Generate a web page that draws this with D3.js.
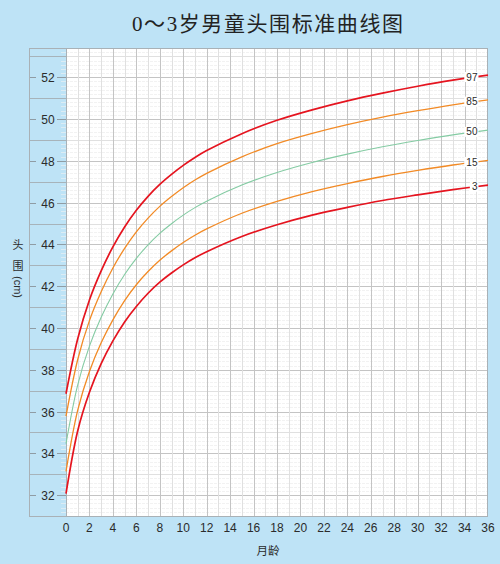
<!DOCTYPE html>
<html>
<head>
<meta charset="utf-8">
<script src="https://cdn.jsdelivr.net/npm/d3@7/dist/d3.min.js"></script>
<style>
  html, body { margin: 0; padding: 0; background: #bee3f6; }
  svg { display: block; }
</style>
</head>
<body>
<div id="chart"></div>
<script>
// 月龄
var months = [0, 1, 2, 3, 4, 5, 6, 7, 8, 9, 10, 11, 12, 15, 18, 21, 24, 27, 30, 33, 36];

// 头围百分位 (cm)
var p3 = [32.07, 35.08, 36.92, 38.29, 39.38, 40.29, 41.03, 41.66, 42.19, 42.63, 43.02,
  43.36, 43.65, 44.38, 44.94, 45.40, 45.77, 46.10, 46.37, 46.62, 46.84];
var p15 = [33.14, 36.07, 37.92, 39.29, 40.39, 41.31, 42.07, 42.70, 43.24, 43.69, 44.09,
  44.44, 44.74, 45.49, 46.06, 46.53, 46.91, 47.25, 47.54, 47.80, 48.02];
var p50 = [34.46, 37.28, 39.13, 40.51, 41.63, 42.56, 43.33, 43.98, 44.53, 44.99, 45.40,
  45.76, 46.07, 46.84, 47.44, 47.92, 48.32, 48.67, 48.97, 49.24, 49.47];
var p85 = [35.78, 38.49, 40.35, 41.73, 42.87, 43.81, 44.60, 45.26, 45.82, 46.29, 46.71,
  47.08, 47.40, 48.19, 48.82, 49.31, 49.73, 50.09, 50.40, 50.68, 50.92];
var p97 = [36.85, 39.48, 41.34, 42.73, 43.88, 44.83, 45.63, 46.30, 46.87, 47.35, 47.78,
  48.16, 48.49, 49.30, 49.94, 50.44, 50.87, 51.24, 51.57, 51.86, 52.10];

var seriesNames = ['3', '15', '50', '85', '97'];
var seriesValues = [p3, p15, p50, p85, p97];

// 刻度
var xTickLabels = [0, 2, 4, 6, 8, 10, 12, 14, 16, 18, 20, 22, 24, 26, 28, 30, 32, 34, 36];
var yTickLabels = [32, 34, 36, 38, 40, 42, 44, 46, 48, 50, 52];

function HeadCircleChart(option) {
  this.width = option.width || 0;
  this.height = option.height || 0;

  this.top = option.top || 0;
  this.bottom = option.bottom || 0;
  this.left = option.left || 0;
  this.right = option.right || 0;
  this.stripLeft = option.stripLeft || 0;

  this.chart = d3.select(option.el)
    .append('svg')
    .attr('width', this.width)
    .attr('height', this.height);

  this.x = d3.scaleLinear()
    .domain([0, 36])
    .range([this.left, this.width - this.right]);
  this.y = d3.scaleLinear()
    .domain([31, 53.4])
    .range([this.height - this.bottom, this.top]);
}

HeadCircleChart.prototype._py = function (v) {
  return Math.round(this.y(v)) + 0.5;
};
HeadCircleChart.prototype._px = function (v) {
  return Math.round(this.x(v)) + 0.5;
};

HeadCircleChart.prototype._drawFrame = function () {
  var x0 = this.left, x1 = this.width - this.right;
  var y0 = this.top, y1 = this.height - this.bottom;

  this.chart.append('rect')
    .attr('x', x0).attr('y', y0)
    .attr('width', x1 - x0).attr('height', y1 - y0)
    .attr('fill', '#ffffff');
};

HeadCircleChart.prototype._drawGrid = function () {
  var self = this;
  var x0 = this.left, x1 = this.width - this.right;
  var y0 = this.top, y1 = this.height - this.bottom;
  var grid = this.chart.append('g').attr('class', 'grid');

  // 0.2cm 细线
  var fine = d3.range(0, 113).map(function (i) { return 31 + i * 0.2; })
    .filter(function (v) { return Math.abs(v - Math.round(v)) > 0.01; });
  grid.selectAll('.fineH').data(fine).enter().append('line')
    .attr('x1', x0).attr('x2', x1)
    .attr('y1', function (d) { return self._py(d); })
    .attr('y2', function (d) { return self._py(d); })
    .attr('stroke', '#f2f2f2')
    .attr('stroke-dasharray', '3,1')
    .attr('stroke-width', 1);

  grid.selectAll('.cmH').data(d3.range(31, 54)).enter().append('line')
    .attr('x1', x0).attr('x2', x1)
    .attr('y1', function (d) { return self._py(d); })
    .attr('y2', function (d) { return self._py(d); })
    .attr('stroke', function (d) { return d % 2 === 0 ? '#c4c4c4' : '#e0e0e0'; })
    .attr('stroke-width', 1);

  grid.selectAll('.mV').data(d3.range(1, 36)).enter().append('line')
    .attr('y1', y0).attr('y2', y1)
    .attr('x1', function (d) { return self._px(d); })
    .attr('x2', function (d) { return self._px(d); })
    .attr('stroke', function (d) { return d % 2 === 0 ? '#c4c4c4' : '#e0e0e0'; })
    .attr('stroke-width', 1);
};

HeadCircleChart.prototype._drawAxis = function () {
  var self = this;
  var x = this.x;
  var x0 = this.left, sl = this.stripLeft;
  var y1 = this.height - this.bottom;
  var axis = this.chart.append('g').attr('class', 'axis');

  // 左侧小刻度
  var fine = d3.range(0, 113).map(function (i) { return 31 + i * 0.2; });
  axis.selectAll('.minor').data(fine).enter().append('line')
    .attr('x1', x0 - 5).attr('x2', x0)
    .attr('y1', function (d) { return self._py(d); })
    .attr('y2', function (d) { return self._py(d); })
    .attr('stroke', '#dcecf4')
    .attr('stroke-width', 1);

  // 奇数分隔线
  axis.selectAll('.odd').data(d3.range(31, 54, 2)).enter().append('line')
    .attr('x1', sl).attr('x2', x0)
    .attr('y1', function (d) { return self._py(d); })
    .attr('y2', function (d) { return self._py(d); })
    .attr('stroke', '#a7b3ba');

  var yt = axis.selectAll('.yTick').data(yTickLabels).enter().append('g')
    .attr('transform', function (d) { return 'translate(0,' + self._py(d) + ')'; });
  yt.append('line').attr('x1', sl).attr('x2', sl + 7).attr('stroke', '#8f9ca4');
  yt.append('line').attr('x1', x0 - 9).attr('x2', x0).attr('stroke', '#8f9ca4');
  yt.append('text')
    .attr('x', (sl + x0) / 2 + 0.5).attr('dy', '0.36em')
    .attr('text-anchor', 'middle')
    .attr('font-family', 'Liberation Sans, Arial, sans-serif')
    .attr('font-size', 12)
    .attr('fill', '#2b2b2b')
    .text(function (d) { return d; });

  axis.selectAll('.xTick').data(xTickLabels).enter().append('text')
    .attr('x', function (d) { return x(d); })
    .attr('y', y1 + 16)
    .attr('text-anchor', 'middle')
    .attr('font-family', 'Liberation Sans, Arial, sans-serif')
    .attr('font-size', 12)
    .attr('fill', '#2b2b2b')
    .text(function (d) { return d; });

  // 边框
  axis.append('rect')
    .attr('x', sl + 0.5).attr('y', this.top + 0.5)
    .attr('width', this.width - this.right - sl - 1)
    .attr('height', y1 - this.top)
    .attr('fill', 'none')
    .attr('stroke', '#a9b1b6');
  axis.append('line')
    .attr('x1', x0 + 0.5).attr('x2', x0 + 0.5)
    .attr('y1', this.top).attr('y2', y1)
    .attr('stroke', '#a9b1b6');
};

HeadCircleChart.prototype._drawCurves = function () {
  var x = this.x, y = this.y;
  var colors = { '3': '#e5141f', '15': '#f28a25', '50': '#84cba3', '85': '#f28a25', '97': '#e5141f' };
  var widths = { '3': 1.7, '15': 1.3, '50': 1.1, '85': 1.3, '97': 1.7 };

  var line = d3.line()
    .x(function (d, i) { return x(months[i]); })
    .y(function (d) { return y(d); })
    .curve(d3.curveCatmullRom.alpha(0.5));

  var curves = this.chart.append('g').attr('class', 'curves');
  curves.selectAll('path').data(seriesValues).enter().append('path')
    .attr('d', line)
    .attr('fill', 'none')
    .attr('stroke', function (d, i) { return colors[seriesNames[i]]; })
    .attr('stroke-width', function (d, i) { return widths[seriesNames[i]]; });

  // 百分位标签
  var labels = curves.selectAll('.lbl').data(seriesValues).enter().append('g')
    .attr('transform', function (d) {
      var v = d3.scaleLinear().domain(months).range(d)(34.9);
      return 'translate(' + x(35.1) + ',' + y(v) + ')';
    });
  labels.append('rect')
    .attr('x', function (d, i) { return -seriesNames[i].length * 5.6 - 2; })
    .attr('y', -5)
    .attr('width', function (d, i) { return seriesNames[i].length * 5.6 + 3; })
    .attr('height', 10)
    .attr('fill', '#ffffff');
  labels.append('text')
    .attr('text-anchor', 'end')
    .attr('dy', '0.36em')
    .attr('font-family', 'Liberation Sans, Arial, sans-serif')
    .attr('font-size', 10)
    .attr('fill', '#2b2b2b')
    .text(function (d, i) { return seriesNames[i]; });
};

HeadCircleChart.prototype._drawTitles = function () {
  this.chart.append('text')
    .attr('x', 132).attr('y', 31)
    .attr('font-family', 'Liberation Serif, Noto Sans CJK SC, serif')
    .attr('font-size', 21)
    .attr('textLength', 271)
    .attr('lengthAdjust', 'spacing')
    .attr('fill', '#222')
    .text('0～3岁男童头围标准曲线图');

  var cjk = 'Noto Sans CJK SC, sans-serif';
  this.chart.append('text')
    .attr('x', 18).attr('y', 249)
    .attr('text-anchor', 'middle')
    .attr('font-family', cjk).attr('font-size', 11).attr('fill', '#2b2b2b')
    .text('头');
  this.chart.append('text')
    .attr('x', 18).attr('y', 270)
    .attr('text-anchor', 'middle')
    .attr('font-family', cjk).attr('font-size', 11).attr('fill', '#2b2b2b')
    .text('围');
  this.chart.append('text')
    .attr('transform', 'translate(14,287) rotate(90)')
    .attr('text-anchor', 'middle')
    .attr('font-family', 'Liberation Sans, Arial, sans-serif').attr('font-size', 11).attr('fill', '#2b2b2b')
    .text('(cm)');

  this.chart.append('text')
    .attr('x', 268).attr('y', 555)
    .attr('text-anchor', 'middle')
    .attr('font-family', cjk).attr('font-size', 11.5).attr('fill', '#2b2b2b')
    .text('月龄');
};

HeadCircleChart.prototype.render = function () {
  this._drawFrame();
  this._drawGrid();
  this._drawAxis();
  this._drawCurves();
  this._drawTitles();
};

var chart = new HeadCircleChart({
  el: '#chart',
  width: 500,
  height: 564,
  top: 48,
  bottom: 48,
  left: 66,
  right: 12,
  stripLeft: 29
});
chart.render();
</script>
</body>
</html>
